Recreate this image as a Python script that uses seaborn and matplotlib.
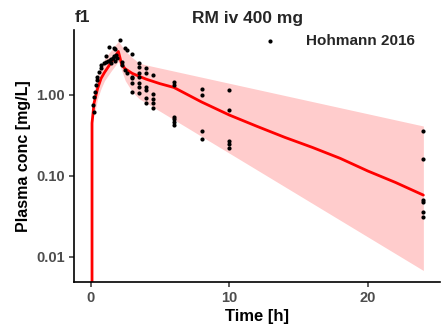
import matplotlib
matplotlib.use("Agg")
import matplotlib.pyplot as plt
import seaborn as sns
from matplotlib.ticker import FixedLocator, FixedFormatter, NullLocator

# Simulated median concentration-time profile (2 h infusion)
sim_time = [0, 0.1, 0.25, 0.5, 0.75, 1, 1.25, 1.5, 1.75, 2, 2.25, 2.5, 3, 3.5,
            4, 5, 6, 8, 10, 12, 14, 16, 18, 20, 22, 24]
sim_median = [0, 0.45, 0.8, 1.2, 1.6, 1.9, 2.2, 2.55, 2.95, 3.45, 2.35, 2.1, 1.85,
              1.7, 1.57, 1.38, 1.24, 0.82, 0.566, 0.41, 0.30, 0.225, 0.165, 0.115,
              0.083, 0.058]

# Simulated 5th-95th percentile band
band_time = [0.25, 0.5, 0.75, 1, 1.5, 2, 2.5, 3, 3.5, 4, 24]
band_lower = [0.55, 0.9, 1.2, 1.5, 2.0, 2.6, 1.5, 1.1, 0.9, 0.8, 0.0068]
band_upper = [1.1, 1.8, 2.3, 2.8, 3.6, 4.6, 3.5, 2.9, 2.48, 2.35, 0.414]

# Observed plasma concentrations (Hohmann 2016)
obs_time = [0.24, 0.19, 0.24, 0.29, 0.36, 0.43, 0.48, 0.6, 0.72, 0.77, 0.96, 1.08,
            1.08, 1.31, 1.25, 1.4, 1.5, 1.6, 1.7, 1.8, 1.5, 1.75, 1.9, 1.67, 1.79,
            2.1,
            2.27, 2.27, 2.5, 2.5, 2.63, 2.63,
            3, 3, 3, 3, 3,
            3.5, 3.5, 3.5, 3.5, 3.5, 3.5, 3.5,
            4, 4, 4, 4, 4, 4,
            4.5, 4.5, 4.5, 4.5, 4.5,
            6, 6, 6, 6, 6, 6,
            8, 8, 8, 8,
            10, 10, 10, 10, 10,
            24, 24, 24, 24, 24, 24]
obs_conc = [0.62, 0.75, 0.95, 1.1, 1.33, 1.53, 1.68, 1.94, 2.14, 2.35, 2.46, 2.58,
            3.03, 3.95, 2.6, 2.7, 2.8, 2.9, 3.0, 3.1, 2.5, 2.65, 2.9, 3.77, 3.66,
            4.77,
            2.58, 2.35, 3.77, 2.03, 3.6, 1.85,
            3.2, 1.68, 1.61, 1.39, 1.1,
            2.46, 2.24, 1.88, 1.68, 1.39, 1.27, 1.05,
            2.13, 1.85, 1.27, 1.15, 0.91, 0.80,
            1.77, 1.02, 0.88, 0.79, 0.70,
            1.43, 1.33, 0.54, 0.50, 0.47, 0.43,
            1.18, 1.0, 0.36, 0.29,
            1.15, 0.65, 0.27, 0.25, 0.22,
            0.36, 0.16, 0.051, 0.048, 0.036, 0.031]

x_ticks = [0, 10, 20]
y_ticks = [0.01, 0.1, 1.0]
y_tick_labels = ["0.01", "0.10", "1.00"]

sns.set_theme(style="ticks")
plt.rcParams['font.family'] = ['Liberation Sans', 'DejaVu Sans']

W, H = 441, 333
fig = plt.figure(figsize=(W / 100, H / 100), dpi=100)
ax = fig.add_axes([74 / W, 1 - 282 / H, 366 / W, 252 / H])

ax.fill_between(band_time, band_lower, band_upper, color='#FFCCCC', lw=0, zorder=1)
sns.lineplot(x=sim_time, y=sim_median, color='#FF0000', lw=2.0, ax=ax,
             estimator=None, sort=False, zorder=2)
sns.scatterplot(x=obs_time, y=obs_conc, color='black', s=9, linewidth=0, ax=ax,
                label='Hohmann 2016', zorder=3)

ax.set_yscale('log')
ax.set_xlim(-1.2, 25.2)
ax.set_ylim(0.0049, 6.35)

ax.xaxis.set_major_locator(FixedLocator(x_ticks))
ax.yaxis.set_major_locator(FixedLocator(y_ticks))
ax.yaxis.set_major_formatter(FixedFormatter(y_tick_labels))
ax.yaxis.set_minor_locator(NullLocator())

for side in ('top', 'right'):
    ax.spines[side].set_visible(False)
for side in ('left', 'bottom'):
    ax.spines[side].set_linewidth(1.2)
    ax.spines[side].set_color('black')

ax.tick_params(axis='both', length=3.5, width=1.1, color='#333333',
               labelcolor='#4D4D4D', labelsize=10.5, pad=3)
for lab in ax.get_xticklabels() + ax.get_yticklabels():
    lab.set_fontweight('bold')

ax.set_xlabel("Time [h]", fontsize=12, fontweight='bold', color='black', labelpad=3)
ax.set_ylabel("Plasma conc [mg/L]", fontsize=11.5, fontweight='bold', color='black',
              labelpad=4)

fig.text(248 / W, 1 - 18 / H, "RM iv 400 mg", ha='center', va='center',
         fontsize=12.5, fontweight='bold')
fig.text(75 / W, 1 - 18 / H, "f1", ha='left', va='center',
         fontsize=12.5, fontweight='bold')

leg = ax.legend(loc='center left', bbox_to_anchor=(255 / W, 1 - 41 / H),
                bbox_transform=fig.transFigure, frameon=False,
                prop={'weight': 'bold', 'size': 11}, handletextpad=1.35,
                markerscale=1.0, borderpad=0, borderaxespad=0)

fig.savefig("out.png", dpi=100)
